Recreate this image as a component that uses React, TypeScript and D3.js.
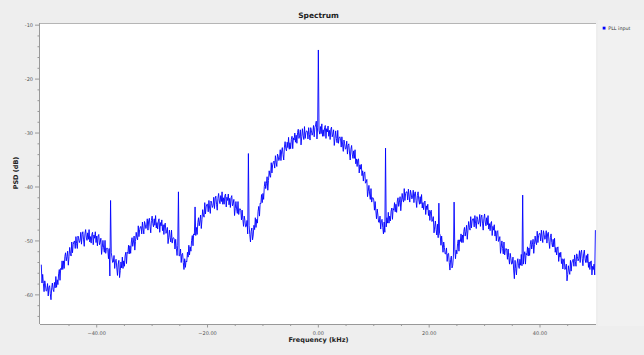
import React from "react";
import * as d3 from "d3";

// FFT bin grid: start frequency and bin spacing (kHz)
const binStartKHz = -50;
const binStepKHz = 0.125;

// PSD (dB) per bin; one row per kHz (8 bins)
const psdDb: number[] = [
  -54.4, -57.8, -56.2, -57.9, -59.4, -57.4, -58.2, -59.3,
  -59.2, -57.9, -60.2, -58.6, -58.3, -59.8, -60.9, -58.7,
  -57.8, -59.0, -59.4, -57.7, -58.7, -56.6, -58.6, -57.2,
  -58.1, -56.1, -55.3, -57.3, -55.1, -55.3, -53.7, -55.3,
  -53.7, -55.1, -52.9, -52.2, -53.7, -52.9, -51.9, -54.5,
  -52.9, -51.2, -52.3, -52.8, -50.2, -52.2, -50.7, -50.2,
  -50.0, -51.4, -49.2, -50.5, -51.4, -49.1, -49.6, -50.3,
  -49.9, -48.4, -50.6, -48.8, -48.3, -49.8, -51.0, -48.7,
  -47.9, -49.3, -49.9, -48.5, -49.7, -47.9, -50.2, -49.2,
  -50.4, -48.8, -48.4, -50.7, -48.9, -49.5, -48.3, -50.3,
  -49.1, -50.9, -49.1, -48.8, -50.7, -50.3, -49.5, -52.5,
  -51.2, -49.9, -51.3, -52.1, -49.9, -52.3, -51.4, -51.3,
  -51.6, -53.3, -51.4, -56.5, -42.5, -52.2, -53.0, -54.0,
  -53.9, -52.7, -55.1, -53.6, -53.4, -55.0, -56.4, -54.3,
  -53.6, -56.8, -55.5, -53.9, -55.0, -53.0, -55.1, -53.7,
  -54.7, -52.8, -52.1, -54.2, -52.1, -52.3, -50.8, -52.4,
  -50.9, -52.3, -50.2, -49.4, -51.0, -50.2, -49.1, -51.7,
  -50.1, -48.4, -49.4, -49.8, -47.2, -49.2, -47.9, -47.4,
  -47.3, -48.7, -46.5, -47.8, -48.7, -46.4, -46.9, -47.7,
  -47.3, -45.9, -48.0, -46.3, -45.8, -47.3, -48.5, -46.2,
  -45.4, -46.8, -47.4, -45.9, -47.1, -45.3, -47.6, -46.6,
  -47.8, -46.3, -45.9, -48.4, -46.6, -47.2, -46.1, -48.1,
  -47.0, -48.8, -47.0, -46.7, -48.6, -48.2, -47.5, -50.5,
  -49.3, -48.0, -49.4, -50.2, -48.0, -50.4, -49.5, -49.4,
  -49.7, -51.5, -49.7, -51.4, -52.7, -50.8, -40.9, -52.8,
  -52.7, -51.5, -54.0, -52.5, -52.3, -54.0, -55.3, -53.3,
  -54.9, -53.7, -53.9, -52.1, -53.0, -50.8, -52.6, -51.1,
  -51.9, -49.9, -49.0, -50.9, -48.7, -48.9, -43.7, -49.0,
  -47.5, -48.8, -46.6, -45.7, -47.2, -46.3, -45.2, -47.7,
  -46.0, -44.2, -45.2, -45.6, -42.9, -45.0, -43.7, -43.2,
  -43.2, -44.6, -42.5, -43.9, -44.9, -42.6, -43.1, -43.8,
  -43.4, -41.9, -44.0, -42.2, -41.7, -43.2, -44.3, -42.1,
  -41.2, -42.6, -43.1, -41.6, -42.7, -40.9, -43.2, -42.0,
  -43.2, -41.6, -41.3, -43.7, -41.9, -42.5, -41.3, -43.3,
  -42.1, -43.8, -42.0, -41.6, -43.5, -43.1, -42.3, -45.3,
  -44.0, -42.7, -44.1, -44.9, -42.7, -45.1, -44.1, -44.0,
  -44.3, -46.1, -44.3, -46.0, -47.3, -45.4, -46.2, -47.4,
  -47.3, -46.2, -48.7, -33.8, -47.1, -48.8, -50.2, -48.2,
  -47.6, -49.8, -48.9, -47.1, -47.9, -45.7, -47.5, -46.0,
  -46.7, -44.5, -43.6, -45.4, -43.0, -43.1, -41.4, -42.9,
  -41.2, -42.3, -39.9, -39.0, -40.3, -39.4, -38.1, -40.6,
  -38.8, -37.0, -37.9, -38.2, -35.5, -37.4, -35.9, -35.4,
  -35.2, -36.5, -34.2, -35.4, -36.2, -33.9, -34.3, -35.1,
  -34.6, -33.1, -35.1, -33.3, -32.7, -34.0, -35.0, -32.6,
  -31.6, -32.9, -33.3, -31.7, -32.7, -30.8, -33.0, -31.8,
  -32.9, -31.2, -30.6, -32.9, -30.9, -31.3, -30.0, -31.7,
  -30.4, -31.9, -29.9, -29.3, -31.0, -30.4, -29.4, -32.2,
  -30.7, -29.2, -30.5, -31.2, -28.8, -31.0, -29.9, -29.6,
  -29.7, -31.1, -29.0, -30.3, -31.3, -29.0, -29.6, -30.4,
  -30.0, -28.6, -30.7, -29.0, -28.5, -27.8, -31.1, -28.9,
  -14.6, -29.5, -30.2, -28.8, -30.1, -28.3, -30.6, -29.4,
  -30.6, -29.0, -28.6, -31.0, -29.2, -29.8, -28.7, -30.6,
  -29.5, -31.2, -29.3, -28.9, -30.7, -30.2, -29.4, -32.3,
  -31.0, -29.6, -31.0, -31.8, -29.5, -31.9, -30.9, -30.7,
  -31.0, -32.6, -30.7, -32.2, -33.4, -31.3, -32.0, -33.0,
  -32.8, -31.5, -33.9, -32.3, -32.0, -33.7, -35.0, -33.0,
  -32.3, -33.9, -34.7, -33.3, -34.7, -33.1, -35.7, -34.8,
  -36.2, -34.9, -34.8, -37.4, -35.9, -36.7, -35.8, -37.9,
  -37.0, -38.9, -37.4, -37.2, -39.3, -39.1, -38.6, -41.8,
  -40.8, -39.7, -41.3, -42.3, -40.3, -42.8, -42.0, -42.0,
  -42.4, -44.3, -42.7, -44.4, -45.9, -44.1, -45.2, -46.5,
  -46.6, -45.4, -47.8, -46.2, -46.0, -47.5, -48.7, -46.5,
  -48.4, -32.8, -47.4, -45.7, -46.7, -44.7, -46.7, -45.4,
  -46.3, -44.5, -43.9, -46.0, -44.0, -44.3, -42.9, -44.6,
  -43.2, -44.7, -42.6, -42.0, -43.6, -42.8, -41.8, -44.4,
  -42.8, -41.2, -42.3, -42.8, -40.3, -42.5, -41.2, -40.9,
  -40.9, -42.4, -40.4, -41.7, -42.8, -40.6, -41.3, -42.2,
  -41.9, -40.6, -42.9, -41.2, -40.9, -42.5, -43.8, -41.6,
  -40.9, -42.4, -43.2, -41.8, -43.1, -41.4, -43.9, -42.9,
  -44.2, -42.8, -42.6, -45.1, -43.5, -44.2, -43.2, -45.3,
  -44.3, -46.2, -44.6, -44.3, -46.4, -46.1, -45.5, -48.5,
  -47.4, -46.3, -47.9, -48.9, -46.9, -49.4, -43.0, -48.6,
  -49.0, -50.8, -49.1, -50.7, -52.1, -50.2, -51.2, -52.4,
  -52.4, -51.3, -53.8, -52.4, -52.3, -54.0, -55.4, -53.4,
  -52.8, -55.0, -54.5, -52.8, -42.8, -51.5, -53.3, -51.7,
  -52.4, -50.5, -49.8, -51.9, -49.8, -50.1, -48.7, -50.3,
  -48.9, -50.3, -48.2, -47.5, -49.1, -48.3, -47.1, -49.7,
  -48.0, -46.4, -47.5, -48.0, -45.5, -47.6, -46.3, -45.9,
  -45.9, -47.4, -45.3, -46.7, -47.7, -45.5, -46.0, -46.9,
  -46.5, -45.1, -47.3, -45.6, -45.2, -46.7, -48.0, -45.8,
  -45.0, -46.5, -47.2, -45.7, -47.0, -45.3, -47.8, -46.8,
  -48.1, -46.7, -46.4, -49.0, -47.3, -48.0, -47.0, -49.1,
  -48.1, -50.0, -48.3, -48.1, -50.1, -49.8, -49.2, -52.3,
  -51.2, -50.0, -51.4, -52.4, -50.2, -52.6, -51.6, -51.4,
  -51.7, -53.4, -51.5, -53.1, -54.3, -52.3, -53.2, -54.3,
  -54.2, -53.0, -55.4, -57.0, -53.6, -55.1, -56.3, -54.1,
  -53.3, -54.6, -55.1, -53.4, -54.5, -52.5, -54.6, -41.5,
  -54.3, -52.6, -52.0, -54.3, -52.3, -52.6, -51.1, -52.8,
  -51.3, -52.7, -50.6, -49.9, -51.5, -50.7, -49.7, -52.3,
  -50.7, -49.1, -50.2, -50.7, -48.2, -50.3, -49.0, -48.6,
  -48.6, -50.0, -48.0, -49.3, -50.3, -48.1, -48.8, -49.7,
  -49.4, -48.1, -50.4, -48.7, -48.4, -50.1, -51.4, -49.4,
  -48.7, -50.3, -51.1, -49.7, -51.1, -49.5, -52.1, -51.2,
  -52.6, -51.3, -51.1, -53.8, -52.2, -53.0, -52.1, -54.2,
  -53.3, -55.2, -53.5, -53.3, -55.3, -55.0, -54.3, -57.4,
  -56.2, -54.6, -55.6, -56.2, -53.6, -55.6, -54.1, -53.6,
  -53.4, -54.7, -52.6, -53.8, -54.7, -52.4, -52.9, -53.7,
  -53.3, -51.8, -54.0, -52.2, -51.7, -53.3, -54.6, -52.4,
  -51.7, -53.3, -54.0, -52.7, -54.0, -52.4, -54.9, -53.9,
  -55.3, -53.9, -53.7, -56.3, -54.7, -55.3, -54.3, -56.3,
  -48.0,
];

const xDomain: [number, number] = [-50, 50];
const yDomain: [number, number] = [-65.4, -9.6];
const xMajorTicks = [-40, -20, 0, 20, 40];
const xMinorTicks = [-45, -35, -30, -25, -15, -10, -5, 5, 10, 15, 25, 30, 35, 45];
const yMajorTicks = [-60, -50, -40, -30, -20, -10];

const title = "Spectrum";
const xLabel = "Frequency (kHz)";
const yLabel = "PSD (dB)";
const seriesName = "PLL input";

const W = 644;
const H = 355;
const plot = { left: 40, right: 596, top: 23, bottom: 324 };

export default function App() {
  const x = d3.scaleLinear().domain(xDomain).range([41.3, 595.4]);
  const y = d3.scaleLinear().domain(yDomain).range([plot.bottom, plot.top]);
  const data = psdDb.map((v, i) => ({ f: binStartKHz + i * binStepKHz, v }));
  const line = d3
    .line<{ f: number; v: number }>()
    .x((d) => x(d.f))
    .y((d) => y(d.v));
  const yMinor = d3.range(-64, -9, 2).filter((v) => v % 10 !== 0);
  const fmtX = d3.format(".2f");
  const tickFont = "DejaVu Sans, sans-serif";
  const tickColor = "#555";
  const axisColor = "#999";

  return (
    <svg
      width={W}
      height={H}
      style={{ position: "fixed", left: 0, top: 0, display: "block" }}
      fontFamily={tickFont}
    >
      <rect x={0} y={0} width={W} height={H} fill="#eeeeee" />
      <rect x={598} y={20} width={46} height={306} fill="#f1f1f1" />
      <rect
        x={plot.left}
        y={plot.top}
        width={plot.right - plot.left}
        height={plot.bottom - plot.top}
        fill="#ffffff"
      />
      <line x1={plot.left} x2={plot.right} y1={plot.top + 0.5} y2={plot.top + 0.5} stroke="#b5b5b5" strokeWidth={1} />
      <defs>
        <clipPath id="plotclip">
          <rect x={plot.left} y={plot.top} width={plot.right - plot.left} height={plot.bottom - plot.top} />
        </clipPath>
      </defs>
      <path
        d={line(data) || ""}
        fill="none"
        stroke="#0000ff"
        strokeWidth={0.9}
        strokeLinejoin="miter"
        clipPath="url(#plotclip)"
      />

      {/* Y axis */}
      <line x1={39.5} x2={39.5} y1={plot.top} y2={plot.bottom} stroke={axisColor} strokeWidth={1} />
      {yMajorTicks.map((t) => (
        <g key={"ym" + t}>
          <line x1={35} x2={39.5} y1={y(t)} y2={y(t)} stroke={axisColor} strokeWidth={1} />
          <text x={33} y={y(t)} dy="0.35em" textAnchor="end" fontSize={5} fill={tickColor}>
            {t}
          </text>
        </g>
      ))}
      {yMinor.map((t) => (
        <line key={"yn" + t} x1={37.5} x2={39.5} y1={y(t)} y2={y(t)} stroke={axisColor} strokeWidth={1} />
      ))}

      {/* X axis */}
      <line x1={plot.left} x2={plot.right} y1={plot.bottom + 0.5} y2={plot.bottom + 0.5} stroke={axisColor} strokeWidth={1} />
      {xMajorTicks.map((t) => (
        <g key={"xm" + t}>
          <line x1={x(t)} x2={x(t)} y1={plot.bottom} y2={plot.bottom + 3.5} stroke={axisColor} strokeWidth={1} />
          <text x={x(t)} y={334.5} textAnchor="middle" fontSize={5} fill={tickColor}>
            {fmtX(t)}
          </text>
        </g>
      ))}
      {xMinorTicks.map((t) => (
        <line key={"xn" + t} x1={x(t)} x2={x(t)} y1={plot.bottom} y2={plot.bottom + 2} stroke={axisColor} strokeWidth={1} />
      ))}

      {/* Titles */}
      <text x={318.5} y={18.3} textAnchor="middle" fontSize={7.5} fontWeight="bold" fill="#222">
        {title}
      </text>
      <text x={318.5} y={341.5} textAnchor="middle" fontSize={6.5} fontWeight="bold" fill="#222">
        {xLabel}
      </text>
      <text
        transform={`translate(17.5, 173) rotate(-90)`}
        textAnchor="middle"
        fontSize={6.5}
        fontWeight="bold"
        fill="#222"
      >
        {yLabel}
      </text>

      {/* Legend */}
      <rect x={602.7} y={26.7} width={2.8} height={2.8} fill="#0000ff" />
      <text x={608.3} y={29.8} fontSize={4.8} fill="#333">
        {seriesName}
      </text>
    </svg>
  );
}
